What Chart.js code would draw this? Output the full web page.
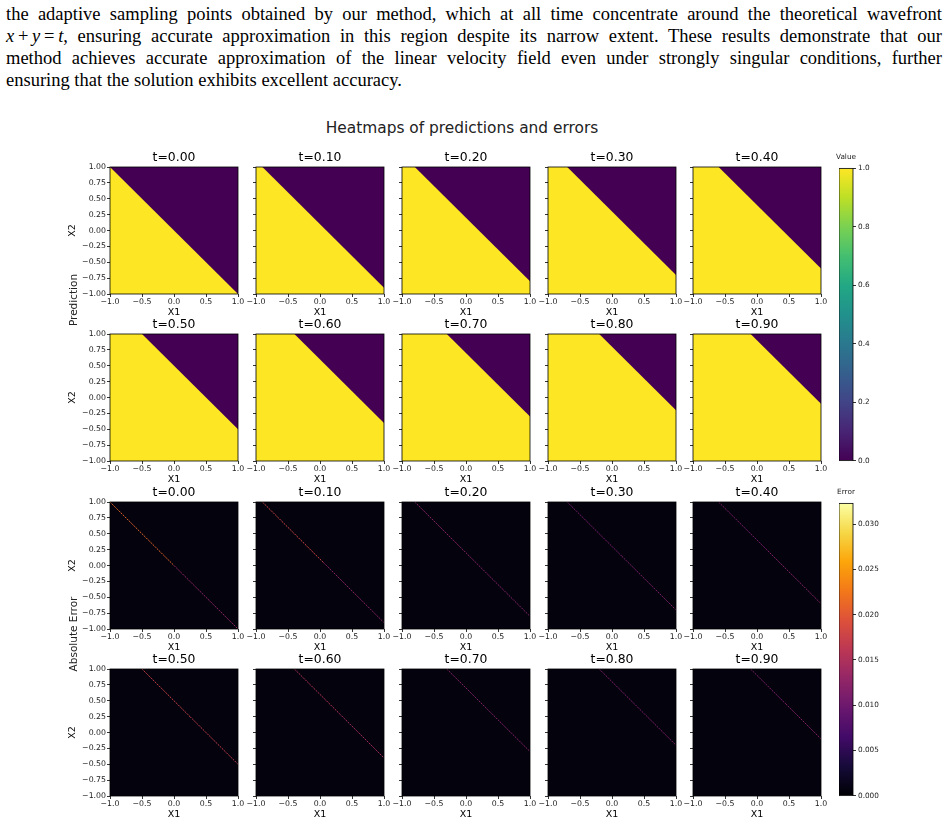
<!DOCTYPE html>
<html>
<head>
<meta charset="utf-8">
<script src="https://cdn.jsdelivr.net/npm/chart.js@4.4.1/dist/chart.umd.min.js"></script>
<style>
  body { margin: 0; background: #fff; }
  #page { position: relative; width: 949px; height: 828px; overflow: hidden; }
  #para { position: absolute; left: 6px; top: 3px; width: 936px; font-family: 'Liberation Serif', serif; font-size: 18.5px; line-height: 22px; color: #000; }
  #para div { text-align: justify; text-align-last: justify; }
  #para div.last { text-align-last: left; }
  .lbl { position: absolute; font-family: 'DejaVu Sans', sans-serif; color: #222; white-space: nowrap; transform: translate(-50%, -50%); }
  .rot { transform: translate(-50%, -50%) rotate(-90deg); }
  canvas { position: absolute; }
</style>
</head>
<body>
<div id="page">
  <div id="para">
    <div>the adaptive sampling points obtained by our method, which at all time concentrate around the theoretical wavefront</div>
    <div><i>x</i>&#8201;+&#8201;<i>y</i>&#8201;=&#8201;<i>t</i>, ensuring accurate approximation in this region despite its narrow extent. These results demonstrate that our</div>
    <div>method achieves accurate approximation of the linear velocity field even under strongly singular conditions, further</div>
    <div class="last">ensuring that the solution exhibits excellent accuracy.</div>
  </div>
</div>
<script>
// panel titles (time steps)
const times = ['t=0.00', 't=0.10', 't=0.20', 't=0.30', 't=0.40', 't=0.50', 't=0.60', 't=0.70', 't=0.80', 't=0.90'];
// wavefront x+y=t: where it meets the top edge (x) and the right edge (y)
const frontTopX = [-1.0, -0.9, -0.8, -0.7, -0.6, -0.5, -0.4, -0.3, -0.2, -0.1];
const frontRightY = [-1.0, -0.9, -0.8, -0.7, -0.6, -0.5, -0.4, -0.3, -0.2, -0.1];
// absolute error along the front (start, middle, end)
const errStart = [0.026, 0.021, 0.013, 0.012, 0.011, 0.017, 0.016, 0.012, 0.012, 0.010];
const errMid = [0.016, 0.015, 0.012, 0.010, 0.011, 0.018, 0.015, 0.012, 0.011, 0.013];
const errEnd = [0.010, 0.010, 0.012, 0.013, 0.013, 0.016, 0.014, 0.012, 0.012, 0.011];
const errorMax = 0.0323;

const xTicks = [-1, -0.5, 0, 0.5, 1];
const yTicks = [-1, -0.75, -0.5, -0.25, 0, 0.25, 0.5, 0.75, 1];
const valueTicks = [0, 0.2, 0.4, 0.6, 0.8, 1.0];
const errorTicks = [0, 0.005, 0.010, 0.015, 0.020, 0.025, 0.030];

const viridis = ['#440154', '#482475', '#414487', '#355f8d', '#2a788e', '#21918c', '#22a884', '#44bf70', '#7ad151', '#bddf26', '#fde725'];
const inferno = ['#000004', '#160b39', '#420a68', '#6a176e', '#932667', '#bc3754', '#dd513a', '#f37819', '#fca50a', '#f6d746', '#fcffa4'];

Chart.defaults.font.family = 'DejaVu Sans';
Chart.defaults.color = '#222';
Chart.defaults.animation = false;

const page = document.getElementById('page');

function hex(c) { return [1, 3, 5].map(i => parseInt(c.substr(i, 2), 16)); }
function cmap(stops, v) {
  v = Math.max(0, Math.min(1, v));
  const p = v * (stops.length - 1);
  const i = Math.min(Math.floor(p), stops.length - 2);
  const f = p - i;
  const a = hex(stops[i]), b = hex(stops[i + 1]);
  const c = a.map((x, j) => Math.round(x + (b[j] - x) * f));
  return `rgb(${c[0]},${c[1]},${c[2]})`;
}
function fmt(v, d) { return (v < 0 ? '\u2212' : '') + Math.abs(v).toFixed(d); }

// black box around the plot area, optional background colour (value 0 of the map)
Chart.register({
  id: 'frame',
  beforeDatasetsDraw(chart, args, opts) {
    const { ctx, chartArea: a } = chart;
    if (opts.bg) {
      ctx.save();
      ctx.fillStyle = opts.bg;
      ctx.fillRect(a.left, a.top, a.width, a.height);
      ctx.restore();
    }
  },
  afterDatasetsDraw(chart) {
    const { ctx, chartArea: a } = chart;
    ctx.save();
    ctx.strokeStyle = '#000';
    ctx.lineWidth = 0.8;
    ctx.strokeRect(a.left, a.top, a.width, a.height);
    ctx.restore();
  }
});

function label(text, x, y, size, rot) {
  const d = document.createElement('div');
  d.className = 'lbl' + (rot ? ' rot' : '');
  d.textContent = text;
  d.style.left = x + 'px';
  d.style.top = y + 'px';
  d.style.fontSize = size + 'px';
  page.appendChild(d);
}

function addCanvas(left, top, w, h) {
  const cv = document.createElement('canvas');
  cv.width = w; cv.height = h;
  cv.style.left = left + 'px';
  cv.style.top = top + 'px';
  cv.style.width = w + 'px';
  cv.style.height = h + 'px';
  page.appendChild(cv);
  return cv;
}

const colLeft = [110, 256, 402, 548, 693];
const rowTop = [167, 334, 502, 669];
const PW = 128, PH = 127;

function makePanel(row, col) {
  const k = (row % 2) * 5 + col;
  const isErr = row >= 2;
  const yW = col === 0 ? 50 : 14, padR = 10, topH = 17, botH = 26;
  const cv = addCanvas(colLeft[col] - yW, rowTop[row] - topH, yW + PW + padR, topH + PH + botH);

  let datasets;
  if (!isErr) {
    datasets = [{
      data: [{ x: -1, y: 1 }, { x: frontTopX[k], y: 1 }, { x: 1, y: frontRightY[k] }],
      fill: 'start',
      backgroundColor: viridis[viridis.length - 1],
      borderWidth: 0,
      pointRadius: 0
    }];
  } else {
    const errs = [errStart[k], errMid[k], errEnd[k]];
    datasets = [{
      data: [
        { x: frontTopX[k], y: 1 },
        { x: (frontTopX[k] + 1) / 2, y: (1 + frontRightY[k]) / 2 },
        { x: 1, y: frontRightY[k] }
      ],
      fill: false,
      borderWidth: 1,
      borderDash: [2, 1],
      borderColor: cmap(inferno, errs[1] / errorMax),
      segment: {
        borderColor: c => cmap(inferno, (errs[c.p0DataIndex] + errs[c.p1DataIndex]) / 2 / errorMax)
      },
      pointRadius: 0
    }];
  }

  new Chart(cv, {
    type: 'line',
    data: { datasets },
    options: {
      responsive: false,
      layout: { padding: { left: 0, right: padR, top: 0, bottom: 0 } },
      plugins: {
        legend: { display: false },
        tooltip: { enabled: false },
        title: {
          display: true,
          fullSize: false,
          text: times[k],
          color: '#000',
          font: { size: 12.4, weight: 'normal', lineHeight: '15px' },
          padding: { top: 0, bottom: 2 }
        },
        frame: { bg: isErr ? '#03020d' : viridis[0] }
      },
      scales: {
        x: {
          type: 'linear', min: -1, max: 1,
          afterBuildTicks: s => { s.ticks = xTicks.map(v => ({ value: v })); },
          afterFit: s => { s.height = botH; },
          grid: { display: true, drawOnChartArea: false, drawTicks: true, tickLength: 3, color: '#000', lineWidth: 0.8 },
          border: { display: false },
          ticks: { font: { size: 7.8, lineHeight: '8px' }, padding: 1, autoSkip: false, maxRotation: 0, callback: v => fmt(v, 1) },
          title: { display: true, text: 'X1', color: '#000', font: { size: 9.5, lineHeight: '11px' }, padding: { top: 0, bottom: 2 } }
        },
        y: {
          type: 'linear', min: -1, max: 1,
          afterBuildTicks: s => { s.ticks = yTicks.map(v => ({ value: v })); },
          afterFit: s => { s.width = yW; },
          grid: { display: true, drawOnChartArea: false, drawTicks: true, tickLength: 3, color: '#000', lineWidth: 0.8 },
          border: { display: false },
          ticks: { display: col === 0, font: { size: 7.8 }, padding: 1, autoSkip: false, callback: v => fmt(v, 2) },
          title: { display: col === 0, text: 'X2', color: '#000', font: { size: 9.5 }, padding: { top: 7.3, bottom: 0 } }
        }
      }
    }
  });
}

function makeColorbar(top, stops, max, ticks, digits) {
  const yW = 30, pad = 5, H = 295;
  const cv = addCanvas(839, top - pad, 14 + yW, H + 2 * pad);
  new Chart(cv, {
    type: 'bar',
    data: {
      labels: [''],
      datasets: [{
        data: [max],
        barPercentage: 1,
        categoryPercentage: 1,
        borderWidth: 0,
        backgroundColor: c => {
          const a = c.chart.chartArea;
          if (!a) return stops[0];
          const g = c.chart.ctx.createLinearGradient(0, a.bottom, 0, a.top);
          stops.forEach((s, i) => g.addColorStop(i / (stops.length - 1), s));
          return g;
        }
      }]
    },
    options: {
      responsive: false,
      layout: { padding: { left: 0, right: 0, top: pad, bottom: pad } },
      plugins: { legend: { display: false }, tooltip: { enabled: false }, frame: {} },
      scales: {
        x: { display: false },
        y: {
          position: 'right', min: 0, max: max,
          afterBuildTicks: s => { s.ticks = ticks.map(v => ({ value: v })); },
          afterFit: s => { s.width = yW; },
          grid: { display: true, drawOnChartArea: false, drawTicks: true, tickLength: 3, color: '#000', lineWidth: 0.8 },
          border: { display: false },
          ticks: { font: { size: 7.3 }, padding: 2, autoSkip: false, callback: v => v.toFixed(digits) }
        }
      }
    }
  });
}

for (let r = 0; r < 4; r++) {
  for (let c = 0; c < 5; c++) makePanel(r, c);
}
makeColorbar(167, viridis, 1.0, valueTicks, 1);
makeColorbar(502, inferno, errorMax, errorTicks, 3);

label('Heatmaps of predictions and errors', 462, 128, 15.4);
label('Value', 846, 156, 7.3);
label('Error', 846, 491, 7.3);
label('Prediction', 72.5, 300, 10.5, true);
label('Absolute Error', 72.5, 634, 10.5, true);
</script>
</body>
</html>
